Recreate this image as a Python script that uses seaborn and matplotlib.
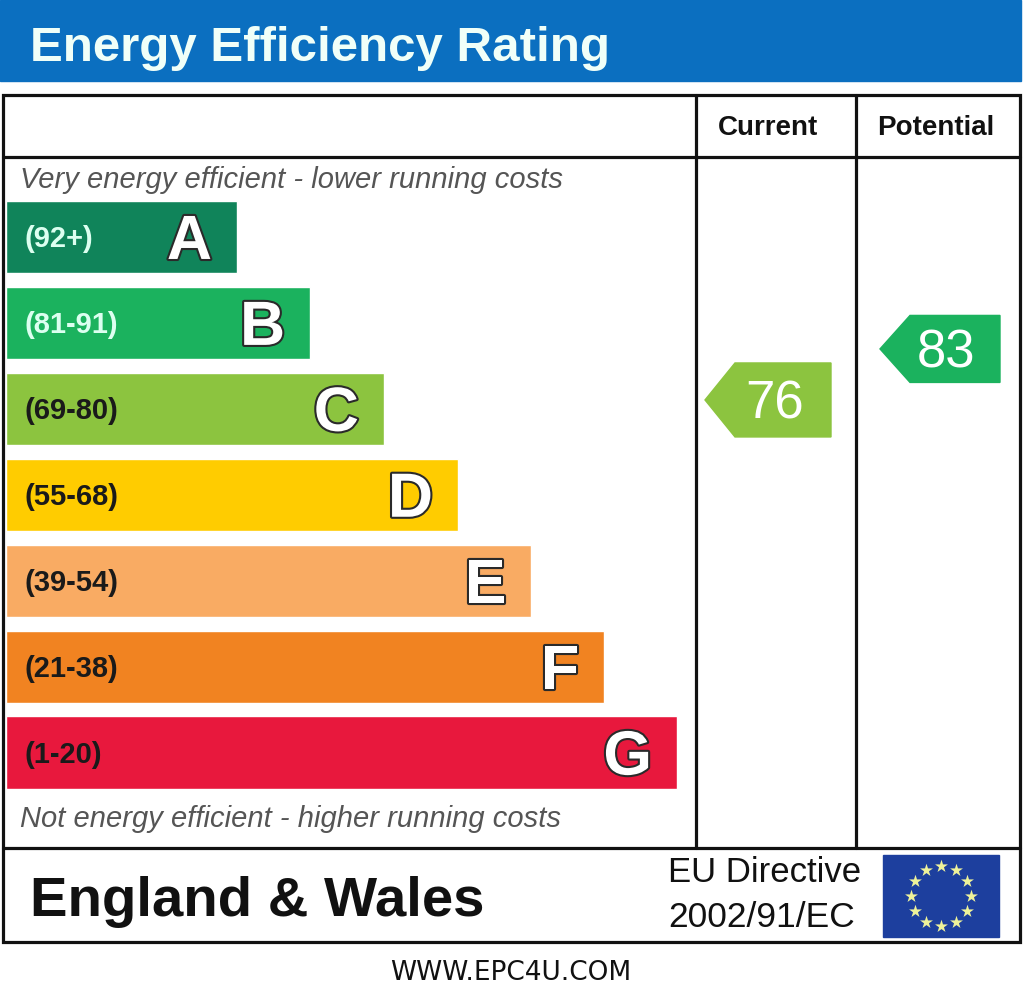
import matplotlib
matplotlib.use("Agg")
import numpy as np
import pandas as pd
import matplotlib.pyplot as plt
import matplotlib.patheffects as pe
from matplotlib.patches import Rectangle, Polygon
import seaborn as sns

# EPC bands
bands = ["A", "B", "C", "D", "E", "F", "G"]
band_ranges = ["(92+)", "(81-91)", "(69-80)", "(55-68)", "(39-54)", "(21-38)", "(1-20)"]
band_widths = [231, 304, 378, 452, 525, 598, 671]
band_colors = ["#10845a", "#1bb25e", "#8cc43f", "#ffcc00", "#f9ab63", "#f18321", "#e8183d"]
range_colors = ["#dcfff0", "#dcfff0", "#1a1a1a", "#1a1a1a", "#1a1a1a", "#1a1a1a", "#1a1a1a"]

current_rating = 76
potential_rating = 83

sns.set_theme(style="white")
plt.rcParams["font.family"] = ["Liberation Sans", "DejaVu Sans"]

W, H = 1024, 993
fig = plt.figure(figsize=(W / 100, H / 100), dpi=100)

# overlay axes in pixel units for the frame and texts
ax = fig.add_axes([0, 0, 1, 1])
ax.set_xlim(0, W)
ax.set_ylim(H, 0)
ax.axis("off")

# header
ax.add_patch(Rectangle((0, 0), 1021, 81, color="#0b6fc0", zorder=1))
ax.text(30, 61, "Energy Efficiency Rating", fontsize=35.5, fontweight="bold",
        color="#f0fff8", va="baseline", ha="left")

# frame
lw = 2.3
ax.add_patch(Rectangle((3, 95), 1017, 847, fill=False, ec="#111111", lw=lw, zorder=3))
ax.plot([3, 1020], [157, 157], color="#111111", lw=lw)
ax.plot([3, 1020], [848, 848], color="#111111", lw=lw)
ax.plot([696, 696], [95, 848], color="#111111", lw=lw)
ax.plot([856, 856], [95, 848], color="#111111", lw=lw)

ax.text(768, 135, "Current", fontsize=20, fontweight="bold", ha="center", va="baseline", color="#111111")
ax.text(936, 135, "Potential", fontsize=20, fontweight="bold", ha="center", va="baseline", color="#111111")
ax.text(20, 188, "Very energy efficient - lower running costs", fontsize=21, style="italic",
        color="#555555", va="baseline")
ax.text(20, 827, "Not energy efficient - higher running costs", fontsize=21, style="italic",
        color="#555555", va="baseline")

# bars
bx = fig.add_axes([6 / W, 1 - 795.5 / H, 700 / W, 601.5 / H])
df = pd.DataFrame({"band": bands, "width": band_widths})
sns.barplot(data=df, x="width", y="band", hue="band", order=bands, hue_order=bands,
            palette=band_colors, width=0.84, legend=False, orient="h", ax=bx,
            saturation=1)
bx.set_xlim(0, 700)
bx.set_ylim(6.5, -0.5)
bx.axis("off")
px = 1 / 85.9
for i, (b, r, w, c) in enumerate(zip(bands, band_ranges, band_widths, range_colors)):
    bx.text(19, i + 10 * px, r, fontsize=21, fontweight="bold", color=c, va="baseline", ha="left")
    bx.text(w - 25, i + 22 * px, b, fontsize=45, fontweight="bold", color="white",
            va="baseline", ha="right",
            path_effects=[pe.withStroke(linewidth=3, foreground="#2a2a2a")])


# rating arrows, vertical position follows the rating value
def rating_y(r):
    return 954.0 - 7.29 * r


def arrow(x_tip, x_left, x_right, h, rating, color, text_x):
    yc = rating_y(rating)
    pts = [(x_tip, yc), (x_left, yc - h / 2), (x_right, yc - h / 2),
           (x_right, yc + h / 2), (x_left, yc + h / 2)]
    ax.add_patch(Polygon(pts, closed=True, color=color, zorder=4))
    ax.text(text_x, yc + 19, str(rating), fontsize=38, color="white",
            ha="center", va="baseline", zorder=5)


arrow(705, 735, 831, 74, current_rating, band_colors[2], 775)
arrow(880, 910, 1000, 67, potential_rating, band_colors[1], 946)

# footer
ax.text(30, 916, "England & Wales", fontsize=40.5, fontweight="bold", color="#111111", va="baseline")
ax.text(668, 882, "EU Directive", fontsize=25, color="#111111", va="baseline")
ax.text(668, 927, "2002/91/EC", fontsize=25.5, color="#111111", va="baseline")

ax.add_patch(Rectangle((883, 855), 116, 82, color="#1d3f9e", zorder=4))
ang = np.linspace(0, 2 * np.pi, 13)[:-1]
ax.scatter(941 + 30 * np.cos(ang), 896 + 30 * np.sin(ang), marker="*", s=95,
           color="#eef29a", zorder=5, linewidths=0)

ax.text(511, 980, "WWW.EPC4U.COM", fontsize=19, family="DejaVu Sans", color="#111111",
        ha="center", va="baseline")

fig.savefig("out.png", dpi=100)
